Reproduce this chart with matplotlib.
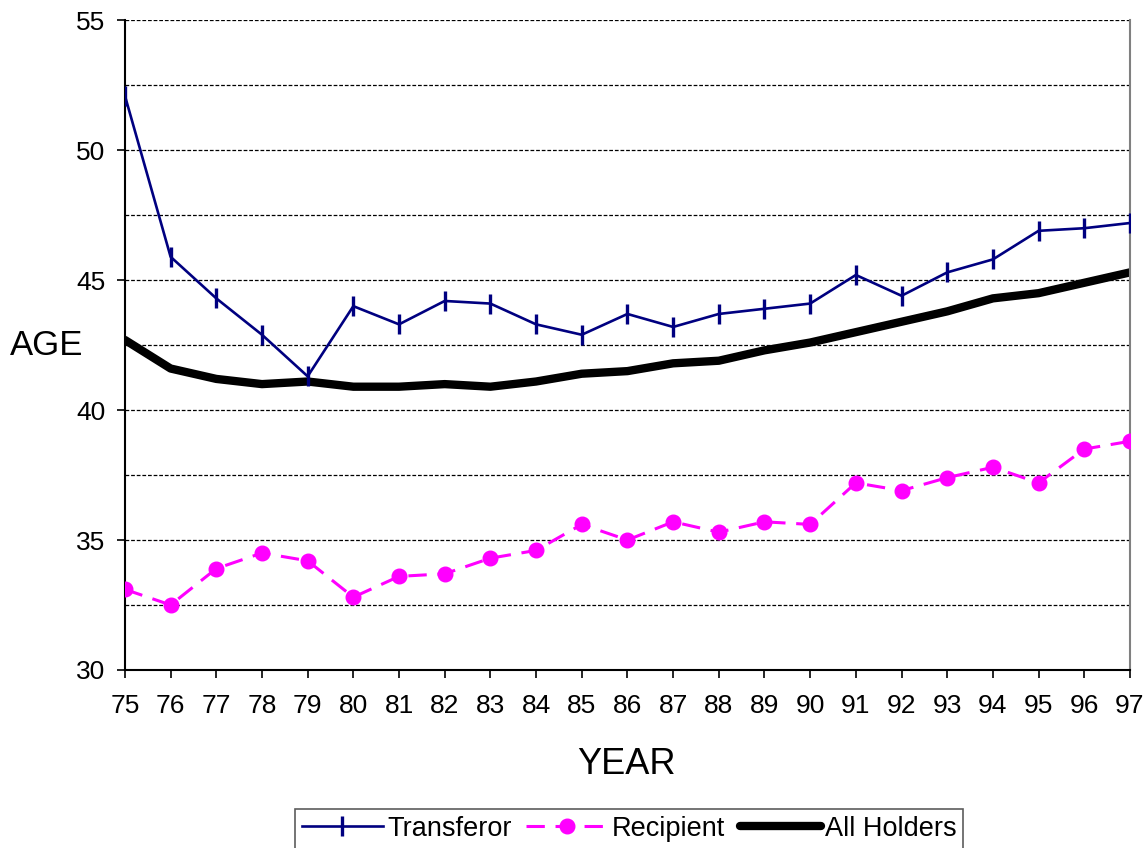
import matplotlib
matplotlib.use("Agg")
import matplotlib.pyplot as plt
from matplotlib.ticker import MultipleLocator

plt.rcParams['font.family'] = ['Liberation Sans', 'DejaVu Sans']

years = list(range(75, 98))
year_labels = [str(y) for y in years]

transferor = [52.1, 45.9, 44.3, 42.9, 41.3, 44.0, 43.3, 44.2, 44.1, 43.3, 42.9, 43.7,
              43.2, 43.7, 43.9, 44.1, 45.2, 44.4, 45.3, 45.8, 46.9, 47.0, 47.2]
recipient = [33.1, 32.5, 33.9, 34.5, 34.2, 32.8, 33.6, 33.7, 34.3, 34.6, 35.6, 35.0,
             35.7, 35.3, 35.7, 35.6, 37.2, 36.9, 37.4, 37.8, 37.2, 38.5, 38.8]
all_holders = [42.7, 41.6, 41.2, 41.0, 41.1, 40.9, 40.9, 41.0, 40.9, 41.1, 41.4, 41.5,
               41.8, 41.9, 42.3, 42.6, 43.0, 43.4, 43.8, 44.3, 44.5, 44.9, 45.3]

fig = plt.figure(figsize=(11.46, 8.48), dpi=100)
ax = fig.add_axes([0.109, 0.21, 0.877, 0.766])

# dashed gridlines every 2.5
for g in [32.5, 35, 37.5, 40, 42.5, 45, 47.5, 50, 52.5, 55]:
    ax.axhline(g, color='black', lw=0.9, ls=(0, (3, 1.5)), zorder=0)

ax.plot(years, transferor, color='#000080', lw=1.9, marker='|', ms=15, mew=2.4,
        label='Transferor', zorder=3)
ax.plot(years, recipient, color='#FF00FF', lw=2.2, ls=(0, (6, 3.5)), marker='o', ms=10.5,
        label='Recipient', zorder=3)
ax.plot(years, all_holders, color='black', lw=6, solid_capstyle='round',
        label='All Holders', zorder=2)

ax.set_xlim(75, 97)
ax.set_ylim(30, 55)
ax.set_xticks(years)
ax.set_xticklabels(year_labels)
ax.yaxis.set_major_locator(MultipleLocator(5))
ax.tick_params(axis='both', direction='out', length=6, width=1.2, labelsize=19,
               colors='black')
ax.tick_params(axis='x', pad=11)
ax.tick_params(axis='y', pad=8)

ax.spines['top'].set_visible(False)
ax.spines['right'].set_color('#808080')
ax.spines['right'].set_linewidth(1.5)
ax.spines['left'].set_linewidth(1.5)
ax.spines['bottom'].set_linewidth(1.5)

ax.set_xlabel('YEAR', fontsize=26, va='center')
ax.xaxis.set_label_coords(0.499, -0.146)
ax.set_ylabel('AGE', fontsize=25, rotation=0, va='center', ha='center')
ax.yaxis.set_label_coords(-0.078, 0.5)

leg = fig.legend(loc='upper center', bbox_to_anchor=(0.549, 0.046), ncol=3,
                 fontsize=19.5, frameon=True, fancybox=False, handlelength=3.0,
                 handletextpad=0.15, columnspacing=0.55, borderpad=0.25,
                 borderaxespad=0)
leg.get_frame().set_edgecolor('#333333')
leg.get_frame().set_linewidth(1.2)

fig.savefig('out.png', dpi=100)
